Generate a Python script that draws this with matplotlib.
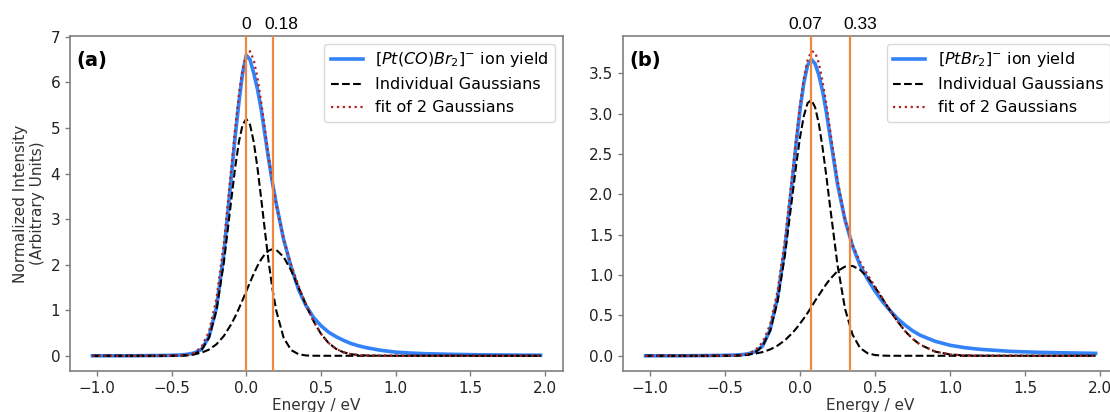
import matplotlib
matplotlib.use("Agg")
import matplotlib.pyplot as plt

# ---------------- data ----------------
# Panel (a): [Pt(CO)Br2]-
energy_a = [-1.03, -0.8, -0.6, -0.5, -0.45, -0.4, -0.35, -0.3, -0.25, -0.2, -0.15, -0.1,
            -0.075, -0.05, -0.025, 0.0, 0.025, 0.05, 0.075, 0.1, 0.125, 0.15, 0.175, 0.2,
            0.25, 0.3, 0.35, 0.4, 0.45, 0.5, 0.55, 0.6, 0.65, 0.7, 0.75, 0.8, 0.9, 1.0,
            1.1, 1.2, 1.4, 1.6, 1.8, 1.97]
yield_a = [0.0, 0.0, 0.005, 0.01, 0.015, 0.03, 0.06, 0.14, 0.42, 1.05, 2.25, 3.95,
           4.8, 5.55, 6.2, 6.6, 6.5, 6.2, 5.85, 5.4, 4.85, 4.3, 3.8, 3.35,
           2.55, 1.95, 1.45, 1.1, 0.84, 0.66, 0.52, 0.42, 0.34, 0.27, 0.22, 0.18, 0.12, 0.08,
           0.06, 0.045, 0.03, 0.02, 0.015, 0.012]
gauss1_a = [0.0, 0.0, 0.0, 0.0, 0.001, 0.007, 0.033, 0.126, 0.393, 0.996, 2.052, 3.44,
            4.12, 4.69, 5.07, 5.2, 5.07, 4.69, 4.12, 3.44, 2.73, 2.05, 1.467, 0.996,
            0.393, 0.126, 0.033, 0.007, 0.001, 0.0, 0.0, 0.0, 0.0, 0.0, 0.0, 0.0, 0.0, 0.0,
            0.0, 0.0, 0.0, 0.0, 0.0, 0.0]
gauss2_a = [0.0, 0.0, 0.0, 0.002, 0.005, 0.013, 0.031, 0.067, 0.135, 0.252, 0.436, 0.698,
            0.858, 1.034, 1.223, 1.419, 1.615, 1.803, 1.974, 2.12, 2.233, 2.308, 2.34, 2.326,
            2.17, 1.874, 1.498, 1.109, 0.76, 0.482, 0.283, 0.154, 0.077, 0.036, 0.016, 0.006, 0.001, 0.0,
            0.0, 0.0, 0.0, 0.0, 0.0, 0.0]
fit_a = [0.0, 0.0, 0.0, 0.002, 0.006, 0.02, 0.064, 0.193, 0.528, 1.248, 2.488, 4.138,
         4.978, 5.724, 6.293, 6.619, 6.685, 6.493, 6.094, 5.56, 4.963, 4.358, 3.807, 3.322,
         2.563, 2.0, 1.531, 1.116, 0.761, 0.482, 0.283, 0.154, 0.077, 0.036, 0.016, 0.006, 0.001, 0.0,
         0.0, 0.0, 0.0, 0.0, 0.0, 0.0]
peaks_a = [0.0, 0.18]
peak_labels_a = ["0", "0.18"]

# Panel (b): [PtBr2]-
energy_b = [-1.03, -0.8, -0.6, -0.5, -0.45, -0.4, -0.35, -0.3, -0.25, -0.2, -0.15, -0.1,
            -0.05, -0.025, 0.0, 0.025, 0.05, 0.075, 0.1, 0.125, 0.15, 0.175, 0.2,
            0.25, 0.3, 0.35, 0.4, 0.45, 0.5, 0.55, 0.6, 0.65, 0.7, 0.75, 0.8, 0.9, 1.0,
            1.1, 1.2, 1.4, 1.6, 1.8, 1.97]
yield_b = [0.0, 0.0, 0.003, 0.006, 0.008, 0.012, 0.022, 0.05, 0.12, 0.32, 0.72, 1.35,
           2.2, 2.65, 3.05, 3.38, 3.6, 3.67, 3.62, 3.48, 3.28, 3.02, 2.72,
           2.12, 1.68, 1.36, 1.12, 0.95, 0.8, 0.67, 0.56, 0.46, 0.38, 0.31, 0.255, 0.18, 0.13,
           0.1, 0.08, 0.055, 0.042, 0.035, 0.03]
gauss1_b = [0.0, 0.0, 0.0, 0.0, 0.0, 0.003, 0.011, 0.04, 0.12, 0.307, 0.674, 1.258,
            2.0, 2.375, 2.71, 2.971, 3.13, 3.17, 3.08, 2.877, 2.58, 2.228, 1.85,
            1.12, 0.58, 0.26, 0.097, 0.031, 0.009, 0.002, 0.0, 0.0, 0.0, 0.0, 0.0, 0.0, 0.0,
            0.0, 0.0, 0.0, 0.0, 0.0, 0.0]
gauss2_b = [0.0, 0.0, 0.0, 0.002, 0.004, 0.007, 0.014, 0.026, 0.046, 0.078, 0.126, 0.194,
            0.285, 0.339, 0.4, 0.463, 0.53, 0.603, 0.68, 0.75, 0.82, 0.889, 0.95,
            1.05, 1.105, 1.113, 1.065, 0.973, 0.849, 0.706, 0.56, 0.424, 0.306, 0.211, 0.138, 0.052, 0.016,
            0.004, 0.001, 0.0, 0.0, 0.0, 0.0]
fit_b = [0.0, 0.0, 0.0, 0.002, 0.004, 0.01, 0.025, 0.066, 0.166, 0.385, 0.8, 1.452,
         2.285, 2.714, 3.11, 3.434, 3.66, 3.773, 3.76, 3.627, 3.4, 3.117, 2.8,
         2.17, 1.685, 1.373, 1.162, 1.004, 0.858, 0.708, 0.56, 0.424, 0.306, 0.211, 0.138, 0.052, 0.016,
         0.004, 0.001, 0.0, 0.0, 0.0, 0.0]
peaks_b = [0.07, 0.33]
peak_labels_b = ["0.07", "0.33"]

yield_labels = [r"$[Pt(CO)Br_2]^{-}$ ion yield", r"$[PtBr_2]^{-}$ ion yield"]
panel_labels = ["(a)", "(b)"]
xlabel = "Energy / eV"
ylabel = "Normalized Intensity\n(Arbitrary Units)"

# ---------------- style ----------------
BLUE = "#3382f7"
ORANGE = "#f0893f"
RED = "#b22222"
SPINE = "#7f7f7f"

plt.rcParams["font.family"] = ["DejaVu Sans"]

fig = plt.figure(figsize=(11.10, 4.12), dpi=100)
ax_a = fig.add_axes([0.0631, 0.0995, 0.4441, 0.8131])
ax_b = fig.add_axes([0.5613, 0.0995, 0.4460, 0.8131])

panels = [
    (ax_a, energy_a, yield_a, gauss1_a, gauss2_a, fit_a, peaks_a, peak_labels_a, [0, 6]),
    (ax_b, energy_b, yield_b, gauss1_b, gauss2_b, fit_b, peaks_b, peak_labels_b, [-4, 8]),
]

for i, (ax, e, y, g1, g2, f, pk, pkl, offs) in enumerate(panels):
    ax.plot(e, y, color=BLUE, lw=2.6, label=yield_labels[i], zorder=2)
    ax.plot(e, g1, color="black", ls="--", lw=1.5, label="Individual Gaussians", zorder=3)
    ax.plot(e, g2, color="black", ls="--", lw=1.5, zorder=3)
    ax.plot(e, f, color=RED, ls=":", lw=1.6, label="fit of 2 Gaussians", zorder=4)
    for xv, lab, dx in zip(pk, pkl, offs):
        ax.axvline(xv, color=ORANGE, lw=1.6, zorder=5)
        ax.annotate(lab, xy=(xv, 1.0), xycoords=("data", "axes fraction"),
                    xytext=(dx, 3), textcoords="offset points",
                    ha="center", va="bottom", fontsize=12.5,
                    family="Liberation Sans", color="black")
    ax.text(0.012, 0.955, panel_labels[i], transform=ax.transAxes, fontsize=14,
            fontweight="bold", ha="left", va="top")
    leg = ax.legend(loc="upper right", fontsize=11.5, frameon=True, fancybox=True)
    leg.get_frame().set_edgecolor("#d0d0d0")
    ax.set_xlabel(xlabel, fontsize=11, color="#333333", labelpad=1.5)
    for s in ax.spines.values():
        s.set_color(SPINE)
        s.set_linewidth(1.2)
    ax.tick_params(colors=SPINE, labelcolor="#222222", labelsize=11, width=1.0)

ax_a.set_ylabel(ylabel, fontsize=11, color="#333333")

fig.savefig("out.png", dpi=100)
